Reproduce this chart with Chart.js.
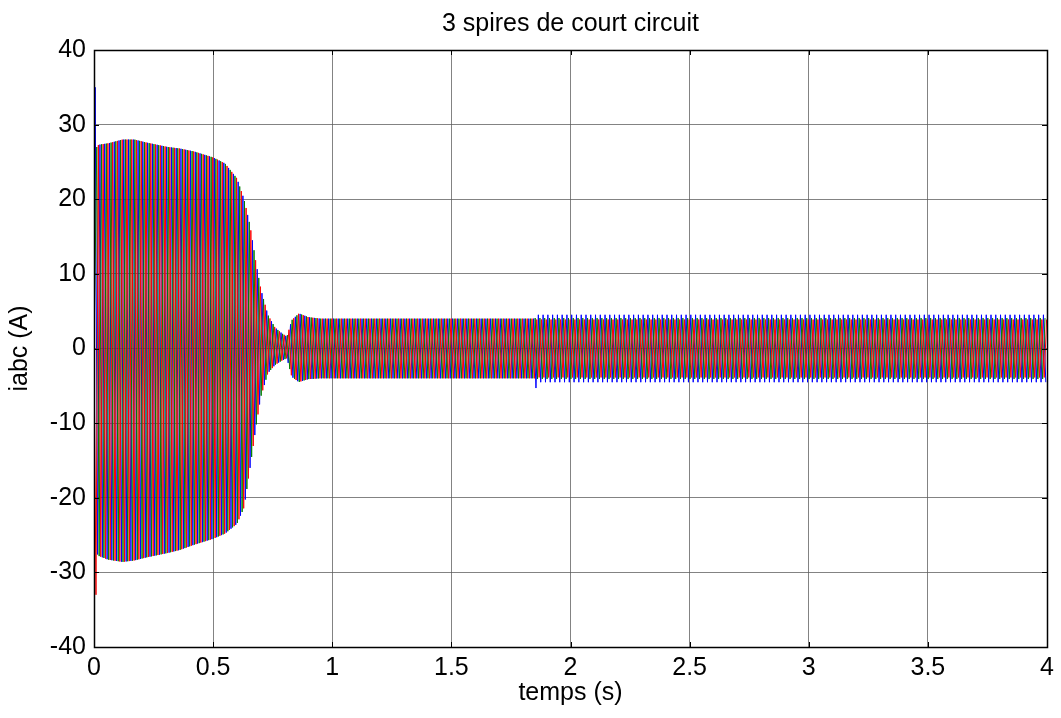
<!DOCTYPE html>
<html>
<head>
<meta charset="utf-8">
<script src="https://cdn.jsdelivr.net/npm/chart.js@4.4.1/dist/chart.umd.min.js"></script>
<style>
  html, body { margin: 0; padding: 0; background: #fff; }
  canvas { display: block; }
</style>
</head>
<body>
<canvas id="c" width="1061" height="718"></canvas>
<script>
// ---- Data ----
const chartTitle = '3 spires de court circuit';
const xTitle = 'temps (s)';
const yTitle = 'iabc (A)';
const xTicks = [0, 0.5, 1, 1.5, 2, 2.5, 3, 3.5, 4];
const yTicks = [-40, -30, -20, -10, 0, 10, 20, 30, 40];

const phaseNames  = ['ia', 'ib', 'ic'];
const phaseColors = ['#0000ff', '#008000', '#ff0000'];

// envelope of the oscillating currents (A), read at these instants (s)
const envTimes = [0, 0.02, 0.06, 0.12, 0.17, 0.22, 0.31, 0.36, 0.42, 0.50, 0.55, 0.60, 0.63, 0.655, 0.68, 0.70, 0.73, 0.76, 0.79, 0.81, 0.83, 0.86, 0.90, 0.95, 1.85, 4.0];
const envUpper = [27, 27.3, 27.5, 28, 28, 27.6, 27, 26.8, 26.4, 25.6, 24.8, 22.8, 20, 16.5, 11.5, 8, 4.5, 2.8, 2.0, 1.6, 3.8, 4.7, 4.2, 4.0, 4.0, 4.0];
const envLower = [-27, -27.8, -28.3, -28.6, -28.4, -28, -27.4, -27, -26.3, -25.5, -24.8, -23.5, -21.3, -16, -10.5, -6.5, -3.3, -2.2, -1.6, -1.3, -3.8, -4.5, -4.1, -4.0, -4.0, -4.0];

// after the short circuit of 3 turns (t = 1.85 s) the phase amplitudes differ
const faultTime = 1.85;
const lateGain = [1.13, 1.02, 0.97];
// first peaks (start-up inrush) and the spike at the fault instant
const firstPeak = [35, 27, -33];
const faultSpike = [-5.3, null, null];

const supplyFreq = 50;           // Hz
const phaseDelay = [0, 2/3, 1/3]; // in half-periods

// ---- build series ----
function env(arr, t) {
  for (let i = 1; i < envTimes.length; i++) {
    if (t <= envTimes[i]) {
      const a = envTimes[i-1], b = envTimes[i];
      const f = (t - a) / (b - a);
      return arr[i-1] + f * (arr[i] - arr[i-1]);
    }
  }
  return arr[arr.length - 1];
}

function buildPhase(p) {
  const half = 1 / (2 * supplyFreq);
  const pts = [{x: 0, y: 0}];
  const s0 = (p === 2) ? -1 : 1;
  let faultDone = false;
  for (let k = 0; ; k++) {
    const t = phaseDelay[p] * half + k * half + 0.005;
    if (t > 4) break;
    const s = s0 * (k % 2 === 0 ? 1 : -1);
    let v = s > 0 ? env(envUpper, t) : env(envLower, t);
    if (t >= faultTime) v *= lateGain[p];
    if (k === 0) v = firstPeak[p];
    if (!faultDone && t >= faultTime && s < 0) {
      faultDone = true;
      if (faultSpike[p] !== null) v = faultSpike[p];
    }
    pts.push({x: t, y: v});
  }
  return pts;
}

const datasets = phaseNames.map((n, p) => ({
  label: n,
  data: buildPhase(p),
  borderColor: phaseColors[p],
  borderWidth: 1,
  pointRadius: 0,
  tension: 0,
  fill: false,
  order: 3 - p
}));

const FONT = 'Liberation Sans, Arial, Helvetica, sans-serif';
const FS = 25;

// ---- plugin: MATLAB style box, inner ticks and title ----
const boxPlugin = {
  id: 'box',
  afterDatasetsDraw(chart) {
    const {ctx, chartArea: a, scales} = chart;
    ctx.save();
    ctx.strokeStyle = '#000';
    ctx.lineWidth = 1;
    ctx.beginPath();
    const L = 5;
    scales.x.ticks.forEach(tk => {
      const px = Math.round(scales.x.getPixelForValue(tk.value)) + 0.5;
      ctx.moveTo(px, a.bottom); ctx.lineTo(px, a.bottom - L);
      ctx.moveTo(px, a.top); ctx.lineTo(px, a.top + L);
    });
    scales.y.ticks.forEach(tk => {
      const py = Math.round(scales.y.getPixelForValue(tk.value)) + 0.5;
      ctx.moveTo(a.left, py); ctx.lineTo(a.left + L, py);
      ctx.moveTo(a.right, py); ctx.lineTo(a.right - L, py);
    });
    ctx.stroke();
    ctx.lineWidth = 1.5;
    ctx.strokeRect(Math.round(a.left) + 0.5, Math.round(a.top) + 0.5,
                   Math.round(a.right - a.left), Math.round(a.bottom - a.top));
    // title centred over the plot area
    ctx.fillStyle = '#000';
    ctx.font = FS + 'px ' + FONT;
    ctx.textAlign = 'center';
    ctx.textBaseline = 'middle';
    ctx.fillText(chartTitle, (a.left + a.right) / 2, 24);
    ctx.restore();
  }
};

const gridStyle = { color: 'rgba(90,90,90,0.75)', lineWidth: 1, drawTicks: false, borderDash: [2, 1] };

new Chart(document.getElementById('c'), {
  type: 'line',
  data: { datasets },
  options: {
    responsive: false,
    animation: false,
    devicePixelRatio: 1,
    events: [],
    layout: { padding: { left: 0, right: 14, top: 50, bottom: 0 } },
    plugins: {
      legend: { display: false },
      tooltip: { enabled: false },
      title: { display: false }
    },
    scales: {
      x: {
        type: 'linear', min: 0, max: 4,
        afterBuildTicks: s => { s.ticks = xTicks.map(v => ({value: v})); },
        ticks: { color: '#000', font: { family: FONT, size: FS }, padding: 6, maxRotation: 0,
                 callback: v => String(v) },
        grid: gridStyle,
        border: { display: true, color: '#000', width: 1 },
        title: { display: true, text: xTitle, color: '#000', font: { family: FONT, size: FS }, padding: { top: 0, bottom: 10 } },
        afterFit: s => { s.height = 71; }
      },
      y: {
        type: 'linear', min: -40, max: 40,
        afterBuildTicks: s => { s.ticks = yTicks.map(v => ({value: v})); },
        ticks: { color: '#000', font: { family: FONT, size: FS }, padding: 8,
                 callback: v => String(v) },
        grid: gridStyle,
        border: { display: true, color: '#000', width: 1 },
        title: { display: true, text: yTitle, color: '#000', font: { family: FONT, size: FS }, padding: { top: 5, bottom: 0 } },
        afterFit: s => { s.width = 94; }
      }
    }
  },
  plugins: [boxPlugin]
});
</script>
</body>
</html>
